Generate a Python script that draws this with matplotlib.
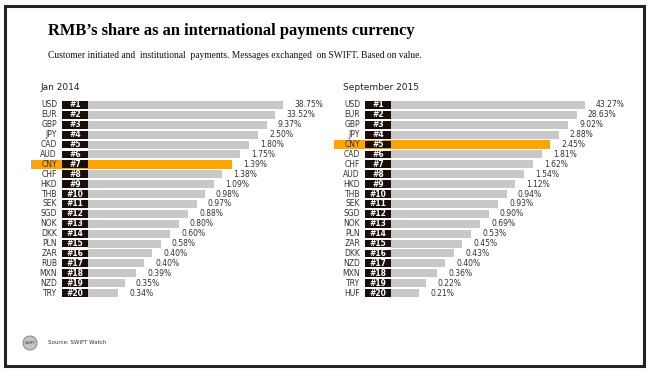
import matplotlib.pyplot as plt
from matplotlib.patches import Rectangle, Circle

title = "RMB\u2019s share as an international payments currency"
subtitle = "Customer initiated and  institutional  payments. Messages exchanged  on SWIFT. Based on value."
source = "Source: SWIFT Watch"

panel_titles = ["Jan 2014", "September 2015"]

jan_codes = ["USD", "EUR", "GBP", "JPY", "CAD", "AUD", "CNY", "CHF", "HKD", "THB",
             "SEK", "SGD", "NOK", "DKK", "PLN", "ZAR", "RUB", "MXN", "NZD", "TRY"]
jan_shares = [38.75, 33.52, 9.37, 2.50, 1.80, 1.75, 1.39, 1.38, 1.09, 0.98,
              0.97, 0.88, 0.80, 0.60, 0.58, 0.40, 0.40, 0.39, 0.35, 0.34]
# drawn bar lengths (the chart does not scale bars to the share)
jan_bars = [195, 187, 179, 170, 161, 152, 144, 134, 126, 117,
            109, 100, 91, 82, 73, 64, 56, 48, 37, 30]

sep_codes = ["USD", "EUR", "GBP", "JPY", "CNY", "CAD", "CHF", "AUD", "HKD", "THB",
             "SEK", "SGD", "NOK", "PLN", "ZAR", "DKK", "NZD", "MXN", "TRY", "HUF"]
sep_shares = [43.27, 28.63, 9.02, 2.88, 2.45, 1.81, 1.62, 1.54, 1.12, 0.94,
              0.93, 0.90, 0.69, 0.53, 0.45, 0.43, 0.40, 0.36, 0.22, 0.21]
sep_bars = [194, 186, 177, 168, 159, 151, 142, 133, 124, 116,
            107, 98, 89, 80, 71, 63, 54, 46, 35, 28]

highlight = "CNY"

W, H = 650, 372
fig = plt.figure(figsize=(6.5, 3.72), dpi=100)

# frame
fig.patches.append(Rectangle((5 / W, 1 - 366 / H), 639 / W, 360 / H, transform=fig.transFigure,
                             fill=False, edgecolor="#222222", linewidth=2.2))

fig.text(48 / W, 1 - 31 / H, title, family="Liberation Serif", fontweight="bold",
         fontsize=11.9, color="#000000", va="center")
fig.text(48 / W, 1 - 55 / H, subtitle, family="Liberation Serif",
         fontsize=6.85, color="#111111", va="center")


def panel(left_px, codes, shares, bars, heading):
    ax = fig.add_axes([left_px / W, 1 - 298 / H, 295 / W, 198 / H])
    ax.set_xlim(-58, 237)
    ax.set_ylim(20.5, 0.5)
    ax.axis("off")
    ranks = list(range(1, len(codes) + 1))
    for r, code, share, length in zip(ranks, codes, shares, bars):
        if code == highlight:
            ax.barh(r, length + 57, left=-57, height=0.88, color="#FFA500")
        else:
            ax.barh(r, length, left=0, height=0.8, color="#C8C8C8")
        ax.barh(r, 26, left=-26, height=0.78, color="#1A0E0B")
        ax.text(-13, r, f"#{r}", color="white", fontsize=5.5, fontweight="bold",
                ha="center", va="center")
        ax.text(-31, r, code, color="#333333", fontsize=5.5, ha="right", va="center")
        ax.text(length + 11, r, f"{share:.2f}%", color="#333333", fontsize=5.5,
                ha="left", va="center")
    ax.text(-48, -0.75, heading, fontsize=6.5, color="#222222", ha="left", va="center")


panel(30, jan_codes, jan_shares, jan_bars, panel_titles[0])
panel(333, sep_codes, sep_shares, sep_bars, panel_titles[1])

# SWIFT logo and source
fig.patches.append(Circle((0.30, 0.29), 0.07, transform=fig.dpi_scale_trans,
                          facecolor="#C4C4C4", edgecolor="#777777", linewidth=0.6))
fig.text(30 / W, 1 - 343 / H, "SWIFT", fontsize=2.5, color="#333333", ha="center", va="center")
fig.text(48 / W, 1 - 343 / H, source, fontsize=4, color="#333333", va="center")

fig.savefig("out.png", dpi=100)
